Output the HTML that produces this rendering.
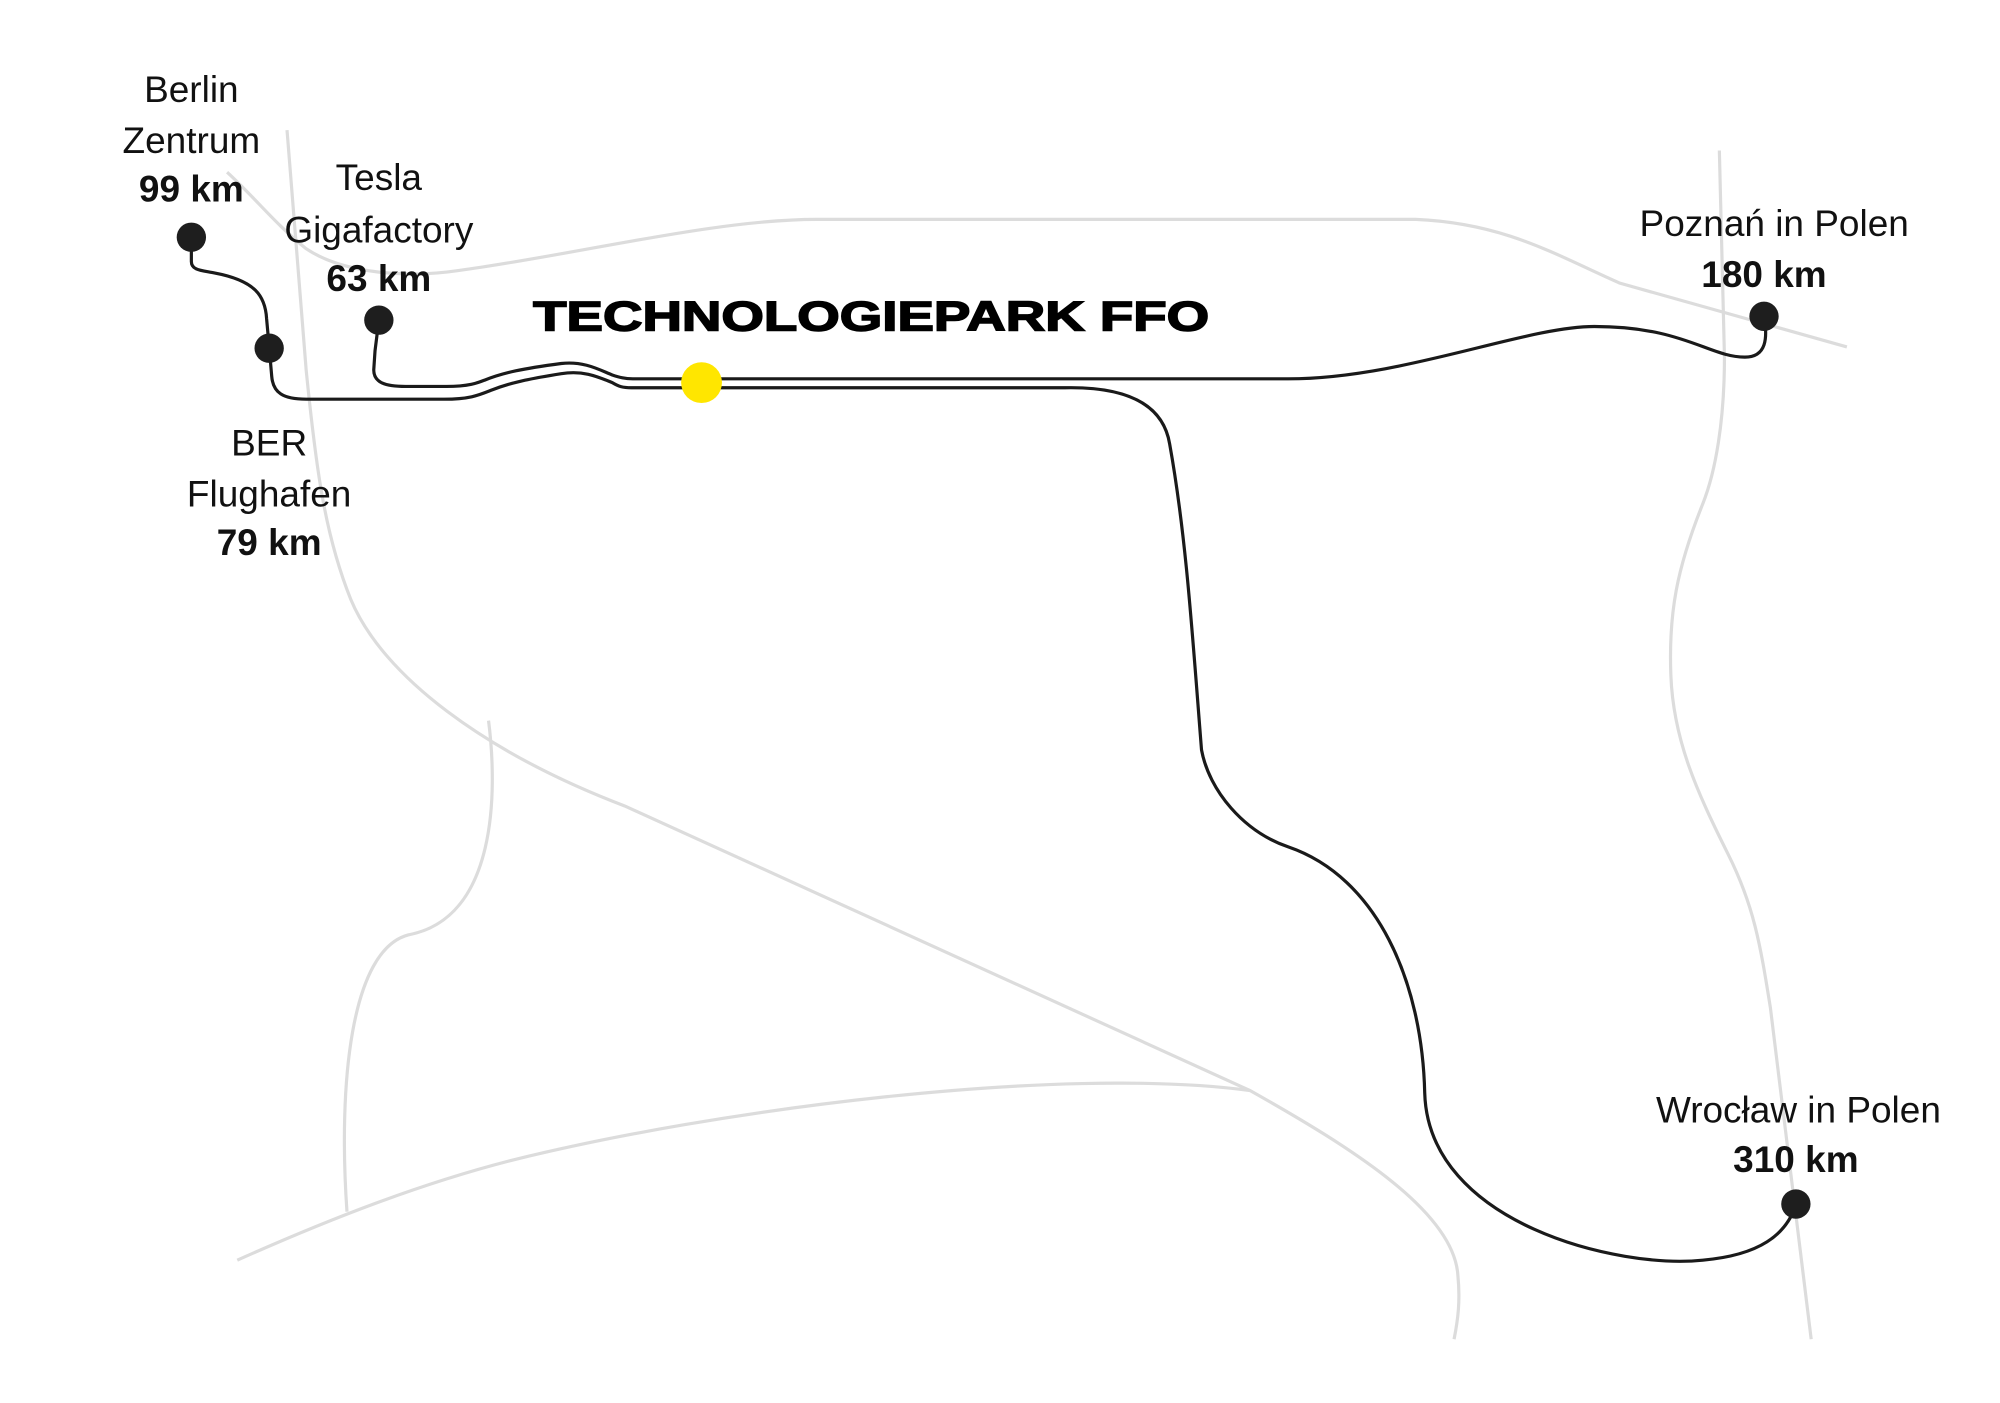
<!DOCTYPE html>
<html><head><meta charset="utf-8"><style>
html,body{margin:0;padding:0;background:#fff;}
svg{display:block}
text{font-family:"Liberation Sans",sans-serif;fill:#111;text-anchor:middle;}
.b{font-weight:bold}
</style></head><body>
<svg width="2000" height="1403" viewBox="0 0 1568 1100" xmlns="http://www.w3.org/2000/svg">
<g fill="none" stroke="#dcdcdc" stroke-width="2.5">
<path d="M225,102 L240,290 C248,370 255,420 275,470 C300,530 380,590 490,632 L980,855 C1060,900 1140,950 1143,1000 C1145,1020 1143,1035 1140,1050"/>
<path d="M178,135 C200,155 215,175 240,195 C270,215 320,218 360,212 C450,200 560,172 640,172 L1110,172 C1180,175 1220,200 1270,222 L1448,272"/>
<path d="M1348,118 L1352,280 C1352,330 1345,370 1335,395 C1315,445 1308,480 1310,530 C1312,580 1330,620 1355,670 C1375,710 1380,740 1388,790 L1420,1050"/>
<path d="M383,565 C390,620 390,720 320,733 C275,745 265,850 272,950"/>
<path d="M186,988 C260,955 330,928 400,910 C560,870 830,835 980,855"/>
</g>
<g fill="none" stroke="#1a1a1a" stroke-width="2.5">
<path d="M150,186 L150,205 C150,212 158,212 168,214 C200,220 208,232 209,250 L211,272 L213,295 C214,308 222,313 240,313 L348,313 C368,313 375,310 385,306 C400,300 415,297 440,293 C458,290 470,296 480,300 C485,303 488,304 495,304 L835,304 C885,303 912,318 917,348 C930,420 935,500 942,588 C948,620 975,652 1010,664 C1080,688 1115,770 1117,857 C1120,960 1270,995 1335,988 C1380,984 1400,968 1408,945"/>
<path d="M297,251 L294,275 L293,290 C293,300 302,303 318,303 L350,303 C368,303 375,300 380,298 C395,292 410,289 440,285 C458,283 470,290 480,294 C486,296 490,297 496,297 L1010,297 C1100,297 1195,256 1250,256 C1320,256 1340,280 1368,280 C1385,280 1386,265 1383,248"/>
</g>
<g fill="#1e1e1e">
<circle cx="150" cy="186" r="11.5"/>
<circle cx="211" cy="273" r="11.5"/>
<circle cx="297" cy="251" r="11.5"/>
<circle cx="1383" cy="248" r="11.5"/>
<circle cx="1408" cy="944" r="11.5"/>
</g>
<circle cx="550" cy="300" r="16" fill="#ffe600"/>
<g font-size="29">
<text x="150" y="80">Berlin</text>
<text x="150" y="120">Zentrum</text>
<text x="150" y="158" class="b">99 km</text>
<text x="297" y="149">Tesla</text>
<text x="297" y="190">Gigafactory</text>
<text x="297" y="228" class="b">63 km</text>
<text x="211" y="357">BER</text>
<text x="211" y="397">Flughafen</text>
<text x="211" y="435" class="b">79 km</text>
<text x="1391" y="185">Poznań in Polen</text>
<text x="1383" y="225" class="b">180 km</text>
<text x="1410" y="880">Wrocław in Polen</text>
<text x="1408" y="919" class="b">310 km</text>
</g>
<text x="683" y="259" font-size="33" class="b" textLength="530" lengthAdjust="spacingAndGlyphs" style="fill:#000;stroke:#000;stroke-width:1.2">TECHNOLOGIEPARK FFO</text>
</svg>
</body></html>
